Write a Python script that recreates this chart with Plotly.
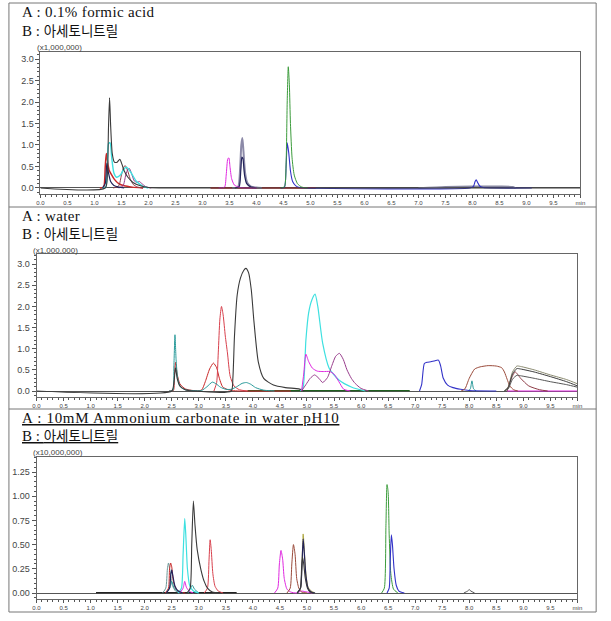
import plotly.graph_objects as go

# ---------------- data ----------------
# x tick labels (shared by all panels)
X_TICKS = [0, 0.5, 1, 1.5, 2, 2.5, 3, 3.5, 4, 4.5, 5, 5.5, 6, 6.5, 7, 7.5, 8, 8.5, 9, 9.5, 10]
X_TICK_TEXT = ["0.0", "0.5", "1.0", "1.5", "2.0", "2.5", "3.0", "3.5", "4.0", "4.5", "5.0",
               "5.5", "6.0", "6.5", "7.0", "7.5", "8.0", "8.5", "9.0", "9.5", "min"]
Y1_TICKS = [0, 0.5, 1.0, 1.5, 2.0, 2.5, 3.0]
Y1_TICK_TEXT = ["0.0", "0.5", "1.0", "1.5", "2.0", "2.5", "3.0"]
Y3_TICKS = [0, 0.25, 0.5, 0.75, 1.0, 1.25]
Y3_TICK_TEXT = ["0.00", "0.25", "0.50", "0.75", "1.00", "1.25"]

HEAD1_A = "A : 0.1% formic acid"
HEAD2_A = "A : water"
HEAD3_A = "A : 10mM Ammonium carbonate in water pH10"
HEAD_B_LABEL = "B : "
HEAD_B_SOLVENT = "아세토니트릴"
SCALE1 = "(x1,000,000)"
SCALE2 = "(x1,000,000)"
SCALE3 = "(x10,000,000)"

# ---- panel 1: 0.1% formic acid (x1,000,000) ----
P1_GRAY_T = [0, 1.20, 1.24, 1.26, 1.28, 1.30, 1.33, 1.37, 1.42, 1.47, 1.51, 1.55, 1.62, 1.72, 1.85, 2.0, 2.2, 10]
P1_GRAY_Y = [0, 0, 0.35, 1.4, 2.1, 1.45, 0.8, 0.6, 0.6, 0.67, 0.55, 0.4, 0.25, 0.12, 0.05, 0.01, 0, 0]
P1_CYAN_T = [1.15, 1.21, 1.24, 1.26, 1.29, 1.32, 1.36, 1.41, 1.48, 1.55, 1.6, 1.68, 1.78, 1.9, 2.0]
P1_CYAN_Y = [0, 0.02, 0.5, 1.03, 1.05, 0.7, 0.35, 0.25, 0.3, 0.45, 0.48, 0.35, 0.15, 0.04, 0]
P1_RED_T = [1.1, 1.17, 1.2, 1.22, 1.24, 1.27, 1.31, 1.37, 1.45, 1.55, 1.7, 1.9, None, 3.15, 5.1]
P1_RED_Y = [0, 0.02, 0.5, 0.8, 0.65, 0.42, 0.32, 0.2, 0.1, 0.05, 0.02, 0, None, 0, 0]
P1_NAVY_T = [1.15, 1.2, 1.23, 1.26, 1.3, 1.36, 1.45, 1.55, None, 3.6, 3.68, 3.71, 3.73, 3.75, 3.78, 3.82, 3.9, 4.0]
P1_NAVY_Y = [0, 0.1, 0.58, 0.35, 0.15, 0.06, 0.02, 0, None, 0, 0.03, 0.4, 0.72, 0.68, 0.3, 0.1, 0.02, 0]
P1_MAROON_T = [1.35, 1.45, 1.5, 1.54, 1.57, 1.61, 1.66, 1.72, 1.8, 1.9]
P1_MAROON_Y = [0, 0.05, 0.3, 0.48, 0.52, 0.42, 0.22, 0.08, 0.02, 0]
P1_PLUM_T = [1.45, 1.53, 1.58, 1.62, 1.65, 1.69, 1.74, 1.79, 1.83, 1.88, 1.95, 2.05]
P1_PLUM_Y = [0, 0.05, 0.3, 0.44, 0.45, 0.32, 0.16, 0.13, 0.15, 0.1, 0.03, 0]
P1_MAGENTA_T = [3.3, 3.41, 3.44, 3.47, 3.49, 3.51, 3.54, 3.59, 3.67, 3.8, 4.0]
P1_MAGENTA_Y = [0, 0.02, 0.3, 0.68, 0.7, 0.5, 0.22, 0.07, 0.02, 0, 0]
P1_LILAC_T = [3.55, 3.66, 3.7, 3.72, 3.74, 3.76, 3.79, 3.83, 3.9, 4.0, 4.1]
P1_LILAC_Y = [0, 0.02, 0.5, 1.0, 1.16, 0.85, 0.35, 0.12, 0.03, 0.01, 0]
P1_GREEN_T = [4.45, 4.52, 4.55, 4.57, 4.59, 4.61, 4.63, 4.66, 4.7, 4.76, 4.84, 4.95]
P1_GREEN_Y = [0, 0.03, 0.6, 2.0, 2.82, 2.4, 1.5, 0.7, 0.3, 0.1, 0.02, 0]
P1_BLUE_T = [4.45, 4.52, 4.55, 4.57, 4.6, 4.63, 4.67, 4.73, 4.8, 4.9, 7.95, 8.02, 8.05, 8.07, 8.1, 8.14, 8.2, 9.1]
P1_BLUE_Y = [0, 0.02, 0.5, 1.05, 0.8, 0.4, 0.15, 0.05, 0.01, 0, 0, 0.04, 0.15, 0.19, 0.12, 0.04, 0.01, 0]
P1_GRAYBASE_T = [7.0, 7.5, 8.0, 8.5, 8.75, 8.8]
P1_GRAYBASE_Y = [0, 0.03, 0.04, 0.04, 0.03, 0]

# ---- panel 2: water (x1,000,000) ----
P2_BLACK_T = [0, 2.5, 2.54, 2.57, 2.6, 2.65, 2.75, 2.9, 3.6, 3.63, 3.66, 3.71, 3.77, 3.83, 3.87,
              3.92, 3.97, 4.02, 4.1, 4.2, 4.38, 4.6, 4.85, 4.95]
P2_BLACK_Y = [0, 0, 0.2, 0.55, 0.3, 0.12, 0.03, 0, 0, 0.3, 1.3, 2.27, 2.67, 2.85, 2.9,
              2.8, 2.4, 1.64, 0.69, 0.3, 0.14, 0.08, 0.05, 0]
P2_TEAL_T = [2.45, 2.52, 2.54, 2.56, 2.58, 2.61, 2.66, 2.75, 2.9, 3.05, 3.15, 3.25, 3.32, 3.4, 3.5,
             3.6, 3.7, 3.8, 3.88, 3.96, 4.05, 4.2, 4.4, None, 7.98, 8.02, 8.05, 8.08, 8.13]
P2_TEAL_Y = [0, 0.01, 0.6, 1.33, 0.75, 0.3, 0.1, 0.03, 0.01, 0.01, 0.1, 0.21, 0.17, 0.09, 0.04,
             0.04, 0.1, 0.18, 0.2, 0.16, 0.08, 0.02, 0, None, 0, 0.05, 0.24, 0.05, 0]
P2_RED_T = [2.45, 2.53, 2.55, 2.57, 2.6, 2.65, 2.75, 2.9, 3.05, 3.12, 3.2, 3.27, 3.33, 3.38, 3.44, 3.52, 3.62, 3.75, 4.7]
P2_RED_Y = [0, 0.01, 0.4, 0.68, 0.4, 0.17, 0.05, 0.01, 0.02, 0.22, 0.52, 0.66, 0.55, 0.3, 0.1, 0.04, 0.01, 0, 0]
P2_CRIMSON_T = [3.28, 3.33, 3.36, 3.39, 3.42, 3.45, 3.49, 3.53, 3.58, 3.65, 3.75, 3.9]
P2_CRIMSON_Y = [0, 0.2, 0.9, 1.7, 2.0, 1.8, 1.3, 0.9, 0.35, 0.12, 0.03, 0]
P2_CYAN_T = [4.88, 4.93, 4.98, 5.03, 5.09, 5.15, 5.2, 5.29, 5.41, 5.59, 5.83, 6.08]
P2_CYAN_Y = [0, 0.1, 1.2, 1.84, 2.15, 2.29, 2.0, 1.13, 0.54, 0.26, 0.09, 0]
P2_MAGENTA_T = [4.9, 4.94, 4.98, 5.03, 5.1, 5.19, 5.3, 5.42, 5.5, 5.59, 5.68, 5.8, None, 8.7, 10]
P2_MAGENTA_Y = [0, 0.4, 0.87, 0.7, 0.54, 0.47, 0.46, 0.46, 0.4, 0.22, 0.04, 0, None, 0, 0]
P2_PLUM_T = [4.9, 4.98, 5.06, 5.14, 5.22, 5.29, 5.38, 5.46, 5.53, 5.6, 5.67, 5.74, 5.82, 5.89, 6.0, 6.14]
P2_PLUM_Y = [0, 0.15, 0.3, 0.38, 0.3, 0.2, 0.32, 0.6, 0.82, 0.89, 0.75, 0.5, 0.3, 0.18, 0.06, 0]
P2_GREEN_T = [3.9, 6.9]
P2_GREEN_Y = [0.01, 0.01]
P2_BLUE_T = [7.08, 7.12, 7.17, 7.22, 7.29, 7.35, 7.43, 7.47, 7.52, 7.6, 7.7, 7.84, 8.0, 8.5]
P2_BLUE_Y = [0, 0.15, 0.65, 0.68, 0.69, 0.71, 0.73, 0.6, 0.3, 0.14, 0.08, 0.04, 0.01, 0]
P2_BROWN_T = [7.85, 7.92, 8.0, 8.1, 8.2, 8.35, 8.5, 8.6, 8.65, 8.7, 8.75, 8.82, 8.9]
P2_BROWN_Y = [0, 0.05, 0.3, 0.52, 0.57, 0.6, 0.59, 0.55, 0.45, 0.28, 0.12, 0.03, 0]
P2_DARKRED_T = [8.7, 8.78, 8.85, 8.95, 9.1, 9.3, 9.45]
P2_DARKRED_Y = [0, 0.3, 0.45, 0.3, 0.12, 0.03, 0]
P2_OLIVE_T = [8.65, 8.72, 8.8, 8.88, 8.95, 9.2, 9.5, 9.8, 10.0]
P2_OLIVE_Y = [0, 0.1, 0.45, 0.59, 0.58, 0.5, 0.38, 0.27, 0.17]
P2_BLACK2_T = [8.65, 8.72, 8.8, 8.88, 8.95, 9.2, 9.5, 9.8, 10.0]
P2_BLACK2_Y = [0, 0.08, 0.4, 0.53, 0.52, 0.45, 0.34, 0.22, 0.12]
P2_BLACK3_T = [8.65, 8.72, 8.8, 8.88, 8.95, 9.2, 9.5, 9.8, 10.0]
P2_BLACK3_Y = [0, 0.05, 0.28, 0.37, 0.36, 0.3, 0.22, 0.15, 0.09]

# ---- panel 3: 10mM ammonium carbonate (x10,000,000) ----
P3_BASE_T = [1.1, 3.7]
P3_BASE_Y = [0.004, 0.004]
P3_GRAYTEAL_T = [2.33, 2.39, 2.42, 2.44, 2.47, 2.51, 2.57, 2.65]
P3_GRAYTEAL_Y = [0, 0.05, 0.25, 0.31, 0.22, 0.08, 0.02, 0]
P3_RED_T = [2.38, 2.44, 2.46, 2.48, 2.5, 2.53, 2.58, 2.65, 2.75]
P3_RED_Y = [0, 0.05, 0.25, 0.31, 0.27, 0.12, 0.04, 0.01, 0]
P3_TEAL_T = [2.4, 2.46, 2.5, 2.54, 2.6, 2.7, None, 2.8, 2.85, 2.88, 2.92, 3.0]
P3_TEAL_Y = [0, 0.05, 0.12, 0.06, 0.02, 0, None, 0, 0.05, 0.08, 0.04, 0]
P3_CYAN_T = [2.62, 2.68, 2.71, 2.74, 2.76, 2.79, 2.83, 2.9, 3.0]
P3_CYAN_Y = [0, 0.05, 0.4, 0.77, 0.6, 0.25, 0.08, 0.02, 0]
P3_BLACK_T = [2.78, 2.84, 2.87, 2.9, 2.93, 2.97, 3.04, 3.1, 3.16, 3.25, 3.4, None,
              4.82, 4.88, 4.9, 4.92, 4.94, 4.97, 5.01, 5.06, 5.12]
P3_BLACK_Y = [0, 0.05, 0.5, 0.95, 0.7, 0.45, 0.24, 0.12, 0.05, 0.01, 0, None,
              0, 0.05, 0.25, 0.37, 0.3, 0.15, 0.05, 0.01, 0]
P3_RED2_T = [3.1, 3.16, 3.19, 3.21, 3.23, 3.26, 3.3, 3.36, 3.45]
P3_RED2_Y = [0, 0.05, 0.35, 0.55, 0.45, 0.2, 0.07, 0.02, 0]
P3_MAGENTA_T = [2.65, 2.71, 2.74, 2.77, 2.82, 2.9, None, 4.4, 4.46, 4.49, 4.52, 4.55, 4.58, 4.63,
                4.7, 4.8, 4.9, 5.0, 5.1]
P3_MAGENTA_Y = [0, 0.05, 0.12, 0.06, 0.02, 0, None, 0, 0.05, 0.3, 0.44, 0.35, 0.15, 0.04,
                0.01, 0, 0.02, 0.01, 0]
P3_BROWN_T = [4.63, 4.69, 4.72, 4.75, 4.78, 4.81, 4.85, 4.9, 5.0]
P3_BROWN_Y = [0, 0.05, 0.3, 0.5, 0.4, 0.15, 0.05, 0.01, 0]
P3_OLIVE_T = [4.82, 4.88, 4.91, 4.93, 4.95, 4.98, 5.02, 5.08, 5.15]
P3_OLIVE_Y = [0, 0.05, 0.35, 0.61, 0.45, 0.2, 0.06, 0.02, 0]
P3_NAVY_T = [2.4, 2.46, 2.48, 2.5, 2.52, 2.56, 2.62, 2.7, None,
             4.82, 4.88, 4.91, 4.93, 4.95, 4.98, 5.02, 5.08, 5.15]
P3_NAVY_Y = [0, 0.05, 0.18, 0.24, 0.18, 0.07, 0.02, 0, None,
             0, 0.05, 0.32, 0.56, 0.42, 0.18, 0.05, 0.01, 0]
P3_GREEN_T = [6.38, 6.43, 6.46, 6.48, 6.5, 6.52, 6.55, 6.6, 6.68]
P3_GREEN_Y = [0, 0.05, 0.7, 1.12, 1.05, 0.6, 0.2, 0.04, 0]
P3_BLUE_T = [6.48, 6.52, 6.54, 6.56, 6.58, 6.61, 6.65, 6.7, 6.8]
P3_BLUE_Y = [0, 0.05, 0.35, 0.6, 0.5, 0.25, 0.08, 0.02, 0]
P3_GRAY_T = [7.9, 7.97, 8.0, 8.03, 8.1]
P3_GRAY_Y = [0, 0.02, 0.035, 0.02, 0]

# ---------------- styles / layout ----------------
W, H = 611, 621
C_BLACK = "#3a3a3a"
C_GRAY = "#555555"
C_CYAN = "#3ee0e0"
C_RED = "#c82828"
C_CRIMSON = "#d8404c"
C_NAVY = "#23235a"
C_MAROON = "#8e3c46"
C_PLUM = "#983c8c"
C_MAGENTA = "#e028e0"
C_LILAC = "#8c8aa8"
C_GREEN = "#3c9c3c"
C_DKGREEN = "#1f5f1f"
C_BLUE = "#3232c8"
C_TEAL = "#2a9a9a"
C_BROWN = "#9a4a3a"
C_OLIVE = "#8a8a70"
C_YOLIVE = "#b0a840"
C_GRAYTEAL = "#6a9898"
C_LGRAY = "#8888a0"

fig = go.Figure()


def add(t, y, color, axis, width=1.0):
    fig.add_trace(go.Scatter(x=t, y=y, mode="lines", xaxis="x" + axis, yaxis="y" + axis,
                             line=dict(color=color, width=width, shape="spline", smoothing=0.6),
                             hoverinfo="skip", showlegend=False))


# panel 1
add(P1_GRAYBASE_T, P1_GRAYBASE_Y, C_LGRAY, "", 1.5)
add(P1_RED_T, P1_RED_Y, C_RED, "", 1.5)
add(P1_BLUE_T, P1_BLUE_Y, C_BLUE, "", 1.1)
add(P1_GREEN_T, P1_GREEN_Y, C_GREEN, "")
add(P1_MAROON_T, P1_MAROON_Y, C_MAROON, "")
add(P1_PLUM_T, P1_PLUM_Y, C_PLUM, "")
add(P1_CYAN_T, P1_CYAN_Y, C_CYAN, "", 1.4)
add(P1_LILAC_T, P1_LILAC_Y, C_LILAC, "", 2.0)
add(P1_NAVY_T, P1_NAVY_Y, C_NAVY, "", 1.2)
add(P1_MAGENTA_T, P1_MAGENTA_Y, C_MAGENTA, "")
add(P1_GRAY_T, P1_GRAY_Y, C_BLACK, "", 1.1)

# panel 2
add(P2_GREEN_T, P2_GREEN_Y, C_DKGREEN, "2", 1.3)
add(P2_RED_T, P2_RED_Y, C_RED, "2")
add(P2_CRIMSON_T, P2_CRIMSON_Y, C_CRIMSON, "2")
add(P2_TEAL_T, P2_TEAL_Y, C_TEAL, "2")
add(P2_BLACK_T, P2_BLACK_Y, C_BLACK, "2", 1.1)
add(P2_CYAN_T, P2_CYAN_Y, C_CYAN, "2", 1.2)
add(P2_MAGENTA_T, P2_MAGENTA_Y, C_MAGENTA, "2")
add(P2_PLUM_T, P2_PLUM_Y, C_PLUM, "2")
add(P2_BLUE_T, P2_BLUE_Y, C_BLUE, "2", 1.1)
add(P2_BROWN_T, P2_BROWN_Y, C_BROWN, "2")
add(P2_DARKRED_T, P2_DARKRED_Y, C_MAROON, "2")
add(P2_OLIVE_T, P2_OLIVE_Y, C_OLIVE, "2")
add(P2_BLACK2_T, P2_BLACK2_Y, C_BLACK, "2")
add(P2_BLACK3_T, P2_BLACK3_Y, "#555555", "2")

# panel 3
add(P3_BASE_T, P3_BASE_Y, "#222222", "3", 1.4)
add(P3_GRAYTEAL_T, P3_GRAYTEAL_Y, C_GRAYTEAL, "3")
add(P3_RED_T, P3_RED_Y, C_RED, "3")
add(P3_TEAL_T, P3_TEAL_Y, C_TEAL, "3")
add(P3_CYAN_T, P3_CYAN_Y, C_CYAN, "3", 1.2)
add(P3_RED2_T, P3_RED2_Y, C_CRIMSON, "3")
add(P3_MAGENTA_T, P3_MAGENTA_Y, C_MAGENTA, "3")
add(P3_BROWN_T, P3_BROWN_Y, C_BROWN, "3")
add(P3_OLIVE_T, P3_OLIVE_Y, C_YOLIVE, "3")
add(P3_NAVY_T, P3_NAVY_Y, C_NAVY, "3", 1.2)
add(P3_BLACK_T, P3_BLACK_Y, C_BLACK, "3", 1.1)
add(P3_GREEN_T, P3_GREEN_Y, C_GREEN, "3")
add(P3_BLUE_T, P3_BLUE_Y, C_BLUE, "3", 1.1)
add(P3_GRAY_T, P3_GRAY_Y, C_GRAY, "3")


def px_x(p):
    return p / W


def px_y(p):
    return 1 - p / H


AX_FONT = dict(family="Liberation Sans, Arial, sans-serif", color="#444444")


def xaxis(left, right, anchor):
    return dict(domain=[px_x(left), px_x(right)], range=[0, 10], anchor=anchor,
                tickmode="array", tickvals=X_TICKS, ticktext=X_TICK_TEXT,
                ticks="outside", ticklen=3, tickwidth=1, tickcolor="#555555",
                minor=dict(tick0=0, dtick=0.1, ticks="outside", ticklen=2, tickcolor="#555555", tickwidth=1),
                tickfont=dict(size=6, **AX_FONT),
                showline=True, mirror=True, linecolor="#666666", linewidth=1,
                showgrid=False, zeroline=False, fixedrange=True)


def yaxis(top, bottom, rng, tickvals, ticktext, minor_dtick, anchor):
    return dict(domain=[px_y(bottom), px_y(top)], range=rng, anchor=anchor,
                tickmode="array", tickvals=tickvals, ticktext=ticktext,
                ticks="outside", ticklen=4, tickwidth=1, tickcolor="#555555",
                minor=dict(tick0=0, dtick=minor_dtick, ticks="outside", ticklen=2, tickcolor="#555555", tickwidth=1),
                tickfont=dict(size=9, **AX_FONT),
                showline=True, mirror=True, linecolor="#666666", linewidth=1,
                showgrid=False, zeroline=True, zerolinecolor="#555555", zerolinewidth=1,
                fixedrange=True)


HEAD_FONT = dict(family="Liberation Serif, 'Noto Sans CJK KR', serif", size=15, color="#111111")
SCALE_FONT = dict(family="Liberation Sans, Arial, sans-serif", size=8, color="#444444")


def ann(text, x, y, font, xanchor="left"):
    return dict(text=text, x=px_x(x), y=px_y(y), xref="paper", yref="paper",
                xanchor=xanchor, yanchor="middle", showarrow=False, font=font, borderpad=0)


def spaced(text, spacing):
    return "<span style='letter-spacing:" + str(spacing) + "px'>" + text + "</span>"


def b_line():
    return HEAD_B_LABEL + "<span style='font-size:13.5px'>" + HEAD_B_SOLVENT + "</span>"


annotations = [
    ann(spaced(HEAD1_A, 0.35), 17, 12.5, HEAD_FONT),
    ann(b_line(), 17, 31, HEAD_FONT),
    ann(spaced(HEAD2_A, 0.35), 17, 215.5, HEAD_FONT),
    ann(b_line(), 17, 234, HEAD_FONT),
    ann("<u>" + spaced(HEAD3_A, 0.7) + "</u>", 17, 417.5, HEAD_FONT),
    ann("<u>" + b_line() + "</u>", 17, 436, HEAD_FONT),
    ann(SCALE1, 56, 47, SCALE_FONT, "center"),
    ann(SCALE2, 52, 250, SCALE_FONT, "center"),
    ann(SCALE3, 55, 452, SCALE_FONT, "center"),
]

line_style = dict(color="#777777", width=1)
shapes = [
    dict(type="rect", xref="paper", yref="paper", x0=px_x(5), x1=px_x(601), y0=px_y(612), y1=px_y(3),
         line=line_style),
    dict(type="line", xref="paper", yref="paper", x0=px_x(5), x1=px_x(601), y0=px_y(207), y1=px_y(207),
         line=line_style),
    dict(type="line", xref="paper", yref="paper", x0=px_x(5), x1=px_x(601), y0=px_y(409), y1=px_y(409),
         line=line_style),
]

fig.update_layout(
    width=W, height=H, autosize=False,
    margin=dict(l=0, r=0, t=0, b=0),
    paper_bgcolor="white", plot_bgcolor="white",
    showlegend=False,
    xaxis=xaxis(37, 585, "y"),
    yaxis=yaxis(52, 194, [-0.14, 3.163], Y1_TICKS, Y1_TICK_TEXT, 0.1, "x"),
    xaxis2=xaxis(33, 582, "y2"),
    yaxis2=yaxis(254, 397, [-0.142, 3.24], Y1_TICKS, Y1_TICK_TEXT, 0.1, "x2"),
    xaxis3=xaxis(33, 582, "y3"),
    yaxis3=yaxis(457, 599, [-0.062, 1.405], Y3_TICKS, Y3_TICK_TEXT, 0.05, "x3"),
    annotations=annotations,
    shapes=shapes,
)

fig.write_html("out.html")
